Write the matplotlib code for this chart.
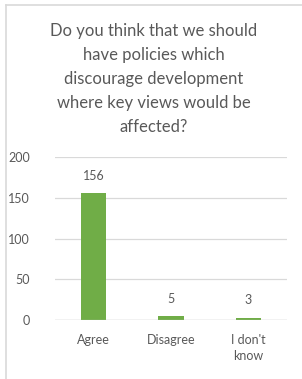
import matplotlib
matplotlib.use("Agg")
import matplotlib.pyplot as plt
from matplotlib.lines import Line2D

categories = ["Agree", "Disagree", "I don't\nknow"]
values = [156, 5, 3]
yticks = [0, 50, 100, 150, 200]
title = "Do you think that we should\nhave policies which\ndiscourage development\nwhere key views would be\naffected?"

text_color = "#595959"
bar_color = "#70AD47"
grid_color = "#D9D9D9"
plt.rcParams['font.family'] = ['Lato', 'DejaVu Sans']

fig = plt.figure(figsize=(3.02, 3.79), dpi=100)
fig.patch.set_facecolor("white")

# outer frame (cropped chart border)
fig.add_artist(Line2D([6/302, 6/302], [0, 1 - 5/379], color="#D9D9D9", lw=1.2, transform=fig.transFigure))
fig.add_artist(Line2D([6/302, 1], [1 - 5/379, 1 - 5/379], color="#D9D9D9", lw=1.2, transform=fig.transFigure))

ax = fig.add_axes([55/302, 1 - 320/379, 232/302, (320 - 157)/379])
x = range(len(categories))
bars = ax.bar(x, values, width=0.33, color=bar_color, zorder=3)
ax.set_xlim(-0.5, 2.5)
ax.set_ylim(0, 200)
ax.set_yticks(yticks)
ax.set_xticks(list(x))
ax.set_xticklabels(categories, fontsize=9, color=text_color, linespacing=1.4)
ax.tick_params(axis='y', labelsize=9, labelcolor=text_color, length=0, pad=18)
ax.tick_params(axis='x', length=0, pad=10)
ax.grid(axis='y', color=grid_color, lw=0.9, zorder=0)
for s in ax.spines.values():
    s.set_visible(False)
ax.axhline(0, color="#BFBFBF", lw=0.9, zorder=4)

for xi, v in zip(x, values):
    ax.annotate(str(v), (xi, v), xytext=(0, 8), textcoords="offset points",
                ha="center", va="bottom", fontsize=9, color=text_color)

fig.text(154/302, 1 - 79/379, title, ha="center", va="center", fontsize=12,
         color=text_color, linespacing=1.6)

fig.savefig("out.png", dpi=100)
